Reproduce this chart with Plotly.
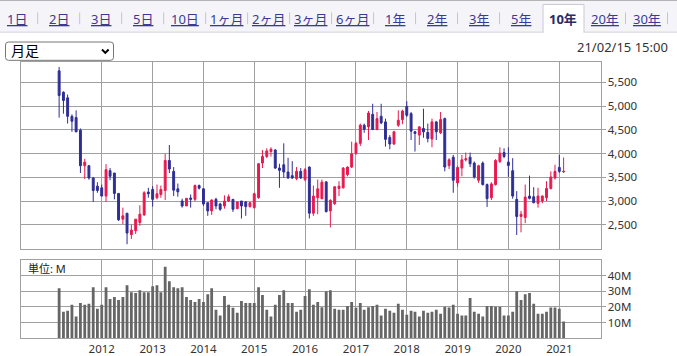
import plotly.graph_objects as go
import pandas as pd

# ---------------- data ----------------
months = pd.date_range('2011-03-01', periods=120, freq='MS')

open_ = [5743, 5292, 5174, 4785, 4757, 4493, 3743, 3743, 3486, 3313,
         3278, 3104, 3639, 3590, 3160, 2618, 2743, 2292, 2375, 2549,
         2708, 3188, 3243, 3069, 3139, 3222, 3854, 3625, 3257, 3000,
         2896, 3063, 3035, 3326, 3257, 2965, 2792, 3035, 2937, 2896,
         3000, 3035, 2840, 3000, 2979, 2882, 2861, 3069, 3799, 3938,
         4042, 4076, 3694, 3764, 3611, 3535, 3472, 3625, 3451, 3715,
         2743, 3069, 3049, 3403, 2792, 2944, 3264, 3278, 3556, 3715,
         4007, 4215, 4597, 4562, 4826, 4507, 4785, 4667, 4340, 4201,
         4597, 4715, 4993, 4840, 4458, 4389, 4528, 4444, 4306, 4667,
         4437, 4736, 3743, 3924, 3382, 3694, 3868, 3924, 3799, 3437,
         3799, 3347, 3069, 3347, 3833, 4021, 3819, 3639, 3035, 2674,
         2653, 3104, 3090, 2951, 3000, 3069, 3264, 3486, 3708, 3615]
high = [5826, 5310, 5243, 4826, 4910, 4528, 3889, 3760, 3507, 3396,
        3347, 3778, 3694, 3590, 3160, 2861, 2743, 2500, 2618, 2910,
        3208, 3278, 3313, 3347, 3326, 3993, 4181, 3715, 3368, 3049,
        3056, 3139, 3347, 3347, 3271, 2965, 3035, 3069, 2965, 3118,
        3139, 3035, 3000, 3000, 3000, 2979, 3174, 3799, 4076, 4111,
        4132, 4090, 3785, 4215, 3910, 3840, 3715, 3694, 3694, 3729,
        3326, 3451, 3451, 3417, 3035, 3313, 3417, 3715, 3729, 4250,
        4250, 4632, 4632, 4896, 5049, 4875, 5049, 4736, 4389, 4479,
        4910, 4924, 5104, 4875, 4479, 4576, 4944, 4632, 4736, 4688,
        4875, 4757, 3903, 3972, 3743, 3972, 4021, 4021, 3833, 3764,
        3833, 3368, 3396, 3882, 4132, 4111, 4132, 3903, 3208, 2792,
        3347, 3535, 3292, 3278, 3118, 3417, 3625, 3764, 3972, 3917]
low = [4757, 4840, 4632, 4458, 4450, 3590, 3465, 3450, 2979, 3174,
       3104, 2979, 3438, 3035, 2580, 2514, 2090, 2201, 2306, 2479,
       2688, 3069, 2882, 3035, 3069, 3021, 3590, 3104, 3090, 2861,
       2896, 2861, 3000, 3243, 2896, 2688, 2708, 2826, 2792, 2840,
       2979, 2771, 2826, 2632, 2688, 2861, 2840, 3049, 3694, 3903,
       3938, 3674, 3278, 3486, 3465, 3465, 3438, 3465, 3417, 2632,
       2688, 2722, 3035, 2757, 2444, 2917, 3104, 3264, 3521, 3694,
       3972, 4160, 4437, 4285, 4493, 4493, 4618, 4146, 4090, 4180,
       4562, 4618, 4771, 4285, 4042, 4181, 4333, 4236, 4132, 4285,
       4410, 3625, 3674, 3174, 3299, 3521, 3833, 3715, 3472, 3382,
       3326, 2875, 3021, 3326, 3799, 3903, 3507, 3049, 2285, 2340,
       2535, 3035, 2951, 2861, 2951, 3000, 3243, 3451, 3590, 3590]
close = [5222, 5118, 4785, 4681, 4458, 3743, 3819, 3486, 3222, 3222,
         3104, 3660, 3521, 3160, 2604, 2688, 2326, 2389, 2618, 2722,
         3174, 3153, 3035, 3153, 3243, 3854, 3674, 3229, 3194, 2896,
         3056, 3035, 3326, 3271, 2937, 2792, 3021, 2896, 2826, 3000,
         3090, 2826, 2979, 2896, 2882, 2965, 3153, 3785, 3938, 4056,
         4090, 3694, 3646, 3611, 3486, 3486, 3625, 3486, 3660, 2743,
         3104, 3257, 3396, 2778, 3014, 3299, 3313, 3694, 3715, 3993,
         4215, 4597, 4514, 4854, 4507, 4736, 4646, 4299, 4201, 4458,
         4701, 4896, 4806, 4472, 4424, 4562, 4458, 4319, 4667, 4458,
         4715, 3715, 3868, 3438, 3708, 3868, 3889, 3785, 3507, 3743,
         3347, 3049, 3361, 3854, 4007, 3938, 3750, 3104, 2674, 2722,
         3083, 3056, 2965, 3104, 3104, 3264, 3507, 3625, 3625, 3625]
volume_m = [31.9, 16.9, 17.5, 21.3, 13.8, 22.5, 21.3, 21.9, 32.5, 18.8,
            21.3, 32.5, 25.0, 26.3, 24.4, 26.3, 33.8, 29.4, 28.8, 30.6,
            29.4, 29.4, 33.1, 33.8, 29.4, 45.6, 36.3, 32.5, 31.9, 32.5,
            26.3, 24.4, 23.1, 25.0, 23.1, 28.1, 31.9, 18.1, 14.4, 26.9,
            21.3, 19.4, 16.3, 23.8, 22.5, 22.5, 22.5, 32.5, 27.5, 18.1,
            13.8, 21.3, 27.5, 30.6, 22.5, 22.5, 16.9, 18.1, 26.9, 31.3,
            21.3, 23.1, 19.8, 30.0, 30.6, 18.8, 18.1, 18.1, 20.6, 23.1,
            19.4, 22.5, 18.1, 19.8, 20.6, 21.3, 14.4, 18.8, 17.5, 16.3,
            21.9, 18.1, 15.0, 17.5, 16.9, 13.8, 17.5, 16.3, 16.9, 18.1,
            15.6, 20.0, 19.6, 21.3, 15.6, 14.4, 14.4, 25.6, 16.9, 15.6,
            13.8, 20.6, 20.6, 20.0, 20.0, 14.4, 14.4, 16.9, 30.0, 24.4,
            28.1, 28.8, 21.9, 15.6, 15.6, 16.9, 19.6, 19.6, 18.8, 10.6]

year_ticks = [f'{y}-01-01' for y in range(2012, 2022)]
year_labels = [str(y) for y in range(2012, 2022)]
price_ticks = [2500, 3000, 3500, 4000, 4500, 5000, 5500]
vol_ticks = [10, 20, 30, 40]
vol_labels = ['10M', '20M', '30M', '40M']
tabs = ['1日', '2日', '3日', '5日', '10日', '1ヶ月', '2ヶ月', '3ヶ月', '6ヶ月',
        '1年', '2年', '3年', '5年', '10年', '20年', '30年']
active_tab = '10年'
period_label = '月足'
timestamp = '21/02/15 15:00'
unit_label = '単位: M'

# ---------------- style ----------------
W, H = 677, 356
UP = '#e8194f'
DOWN = '#2e2e96'
GRID = '#a0a0a0'
BAR = '#666666'
TXT = '#333333'
LINK = '#3a3a94'
FONT = 'Noto Sans, Noto Sans CJK JP, sans-serif'


def fx(x):
    return x / W


def fy(y):
    return 1 - y / H


x_left = pd.Timestamp('2012-01-01') - pd.Timedelta(days=580)
x_right = pd.Timestamp('2012-01-01') + pd.Timedelta(days=3584)
xrange_ = [x_left.strftime('%Y-%m-%d'), x_right.strftime('%Y-%m-%d')]

fig = go.Figure()
fig.add_trace(go.Candlestick(
    x=months, open=open_, high=high, low=low, close=close,
    increasing=dict(line=dict(color=UP, width=1), fillcolor=UP),
    decreasing=dict(line=dict(color=DOWN, width=1), fillcolor=DOWN),
    whiskerwidth=0, xaxis='x', yaxis='y', showlegend=False, hoverinfo='skip'))
fig.add_trace(go.Bar(
    x=months, y=volume_m, marker=dict(color=BAR, line=dict(width=0)),
    xaxis='x2', yaxis='y2', showlegend=False, hoverinfo='skip'))

common_x = dict(type='date', range=xrange_, tickvals=year_ticks, showgrid=True,
                gridcolor=GRID, gridwidth=1, showline=True, mirror=True,
                linecolor=GRID, linewidth=1, zeroline=False, ticks='',
                fixedrange=True)
fig.update_layout(
    width=W, height=H, margin=dict(l=0, r=0, t=0, b=0),
    paper_bgcolor='white', plot_bgcolor='white',
    font=dict(family=FONT, size=11.5, color=TXT),
    bargap=0.28,
    xaxis=dict(domain=[fx(21), fx(600.5)], anchor='y', showticklabels=False,
               rangeslider=dict(visible=False), **common_x),
    xaxis2=dict(domain=[fx(21), fx(600.5)], anchor='y2', showticklabels=True,
                ticktext=year_labels, **common_x),
    yaxis=dict(domain=[fy(251.5), fy(62.5)], anchor='x', side='right',
               range=[1996, 5933], tickvals=price_ticks, tickformat=',',
               ticks='outside', ticklen=4, tickcolor=GRID, showgrid=True,
               gridcolor=GRID, showline=True, mirror=True, linecolor=GRID,
               zeroline=False, fixedrange=True),
    yaxis2=dict(domain=[fy(342), fy(263)], anchor='x2', side='right',
                range=[0, 49.9], tickvals=vol_ticks, ticktext=vol_labels,
                ticks='outside', ticklen=4, tickcolor=GRID, showgrid=True,
                gridcolor=GRID, showline=True, mirror=True, linecolor=GRID,
                zeroline=False, fixedrange=True),
)

shapes = []
annotations = []
# tab bar
shapes.append(dict(type='rect', xref='paper', yref='paper', x0=0, x1=1,
                   y0=fy(32.5), y1=fy(0.5), fillcolor='#f5f5f9', line=dict(width=0),
                   layer='below'))
shapes.append(dict(type='line', xref='paper', yref='paper', x0=0, x1=1,
                   y0=fy(0.5), y1=fy(0.5), line=dict(color='#b4b4b4', width=1)))
shapes.append(dict(type='line', xref='paper', yref='paper', x0=0, x1=1,
                   y0=fy(32.5), y1=fy(32.5), line=dict(color='#d2d2da', width=1)))
step = (646.5 - 16.7) / 15
for k, t in enumerate(tabs):
    cx = 16.7 + step * k
    if t == active_tab:
        shapes.append(dict(type='rect', xref='paper', yref='paper',
                           x0=fx(543), x1=fx(584), y0=fy(33.5), y1=fy(4.5),
                           fillcolor='white', line=dict(width=0)))
        p = (f'M {fx(543)},{fy(33)} L {fx(543)},{fy(4.5)} '
             f'L {fx(584)},{fy(4.5)} L {fx(584)},{fy(33)}')
        shapes.append(dict(type='path', xref='paper', yref='paper', path=p,
                           line=dict(color='#c8c8d0', width=1)))
        annotations.append(dict(x=fx(cx), y=fy(19), xref='paper', yref='paper',
                                text=f'<b>{t}</b>', showarrow=False,
                                xanchor='center', yanchor='middle',
                                font=dict(size=13, color='#2a2a66')))
    else:
        annotations.append(dict(x=fx(cx), y=fy(19), xref='paper', yref='paper',
                                text=f'<u>{t}</u>', showarrow=False,
                                xanchor='center', yanchor='middle',
                                font=dict(size=13, color=LINK)))
    sx = cx + step / 2
    nxt = tabs[k + 1] if k + 1 < len(tabs) else None
    if t != active_tab and nxt != active_tab:
        shapes.append(dict(type='line', xref='paper', yref='paper',
                           x0=fx(sx), x1=fx(sx), y0=fy(12.5), y1=fy(24.5),
                           line=dict(color='#c4c4cc', width=1)))

# dropdown
r = 3
x0d, x1d, y0d, y1d = 5.5, 113.5, 42.5, 61
p = (f'M {fx(x0d)},{fy(y0d + r)} Q {fx(x0d)},{fy(y0d)} {fx(x0d + r)},{fy(y0d)} '
     f'L {fx(x1d - r)},{fy(y0d)} Q {fx(x1d)},{fy(y0d)} {fx(x1d)},{fy(y0d + r)} '
     f'L {fx(x1d)},{fy(y1d - r)} Q {fx(x1d)},{fy(y1d)} {fx(x1d - r)},{fy(y1d)} '
     f'L {fx(x0d + r)},{fy(y1d)} Q {fx(x0d)},{fy(y1d)} {fx(x0d)},{fy(y1d - r)} Z')
shapes.append(dict(type='path', xref='paper', yref='paper', path=p,
                   fillcolor='white', line=dict(color='#767676', width=1)))
shapes.append(dict(type='path', xref='paper', yref='paper',
                   path=f'M {fx(102)},{fy(50)} L {fx(105.3)},{fy(53.5)} L {fx(108.6)},{fy(50)}',
                   line=dict(color='black', width=2)))
annotations.append(dict(x=fx(9), y=fy(51.5), xref='paper', yref='paper',
                        text=period_label, showarrow=False, xanchor='left',
                        yanchor='middle', font=dict(size=14, color='black')))
annotations.append(dict(x=fx(670), y=fy(48), xref='paper', yref='paper',
                        text=timestamp, showarrow=False, xanchor='right',
                        yanchor='middle', font=dict(size=13, color=TXT)))
annotations.append(dict(x=fx(26), y=fy(271.5), xref='paper', yref='paper',
                        text=unit_label, showarrow=False, xanchor='left',
                        yanchor='middle', font=dict(size=11, color='#222222')))

fig.update_layout(shapes=shapes, annotations=annotations)
fig.write_html('out.html',
               config={'displayModeBar': False, 'staticPlot': True},
               post_script="document.body.style.margin='0';"
                           "document.body.style.overflow='hidden';")
